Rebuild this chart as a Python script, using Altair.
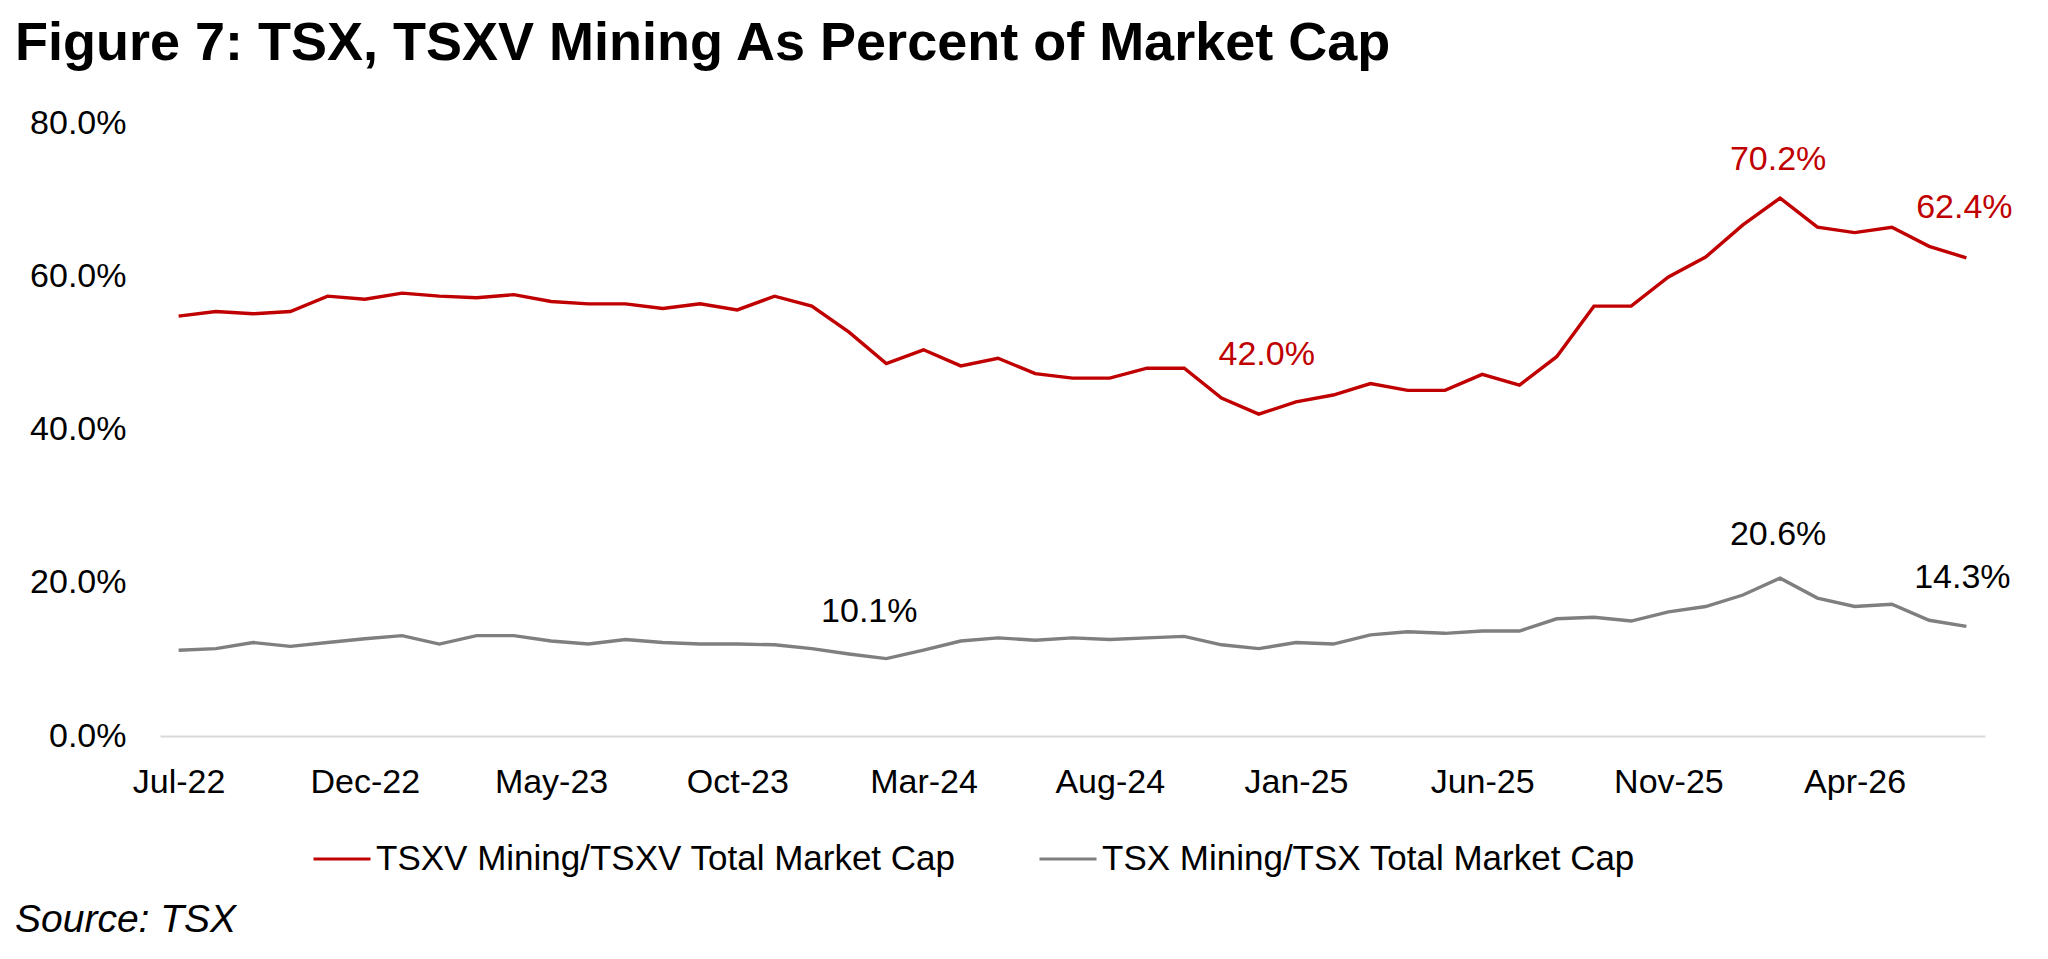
import altair as alt
import pandas as pd

months = [
    "Jul-22", "Aug-22", "Sep-22", "Oct-22", "Nov-22", "Dec-22",
    "Jan-23", "Feb-23", "Mar-23", "Apr-23", "May-23", "Jun-23",
    "Jul-23", "Aug-23", "Sep-23", "Oct-23", "Nov-23", "Dec-23",
    "Jan-24", "Feb-24", "Mar-24", "Apr-24", "May-24", "Jun-24",
    "Jul-24", "Aug-24", "Sep-24", "Oct-24", "Nov-24", "Dec-24",
    "Jan-25", "Feb-25", "Mar-25", "Apr-25", "May-25", "Jun-25",
    "Jul-25", "Aug-25", "Sep-25", "Oct-25", "Nov-25", "Dec-25",
    "Jan-26", "Feb-26", "Mar-26", "Apr-26", "May-26", "Jun-26", "Jul-26",
]

tsxv_share = [
    54.8, 55.4, 55.1, 55.4, 57.4, 57.0, 57.8, 57.4, 57.2, 57.6,
    56.7, 56.4, 56.4, 55.8, 56.4, 55.6, 57.4, 56.1, 52.7, 48.6,
    50.4, 48.3, 49.3, 47.3, 46.7, 46.7, 48.0, 48.0, 44.1, 42.0,
    43.6, 44.5, 46.0, 45.1, 45.1, 47.2, 45.8, 49.5, 56.1, 56.1,
    59.9, 62.5, 66.7, 70.2, 66.4, 65.7, 66.4, 63.9, 62.4,
]

tsx_share = [
    11.2, 11.4, 12.2, 11.7, 12.2, 12.7, 13.1, 12.0, 13.1, 13.1,
    12.4, 12.0, 12.6, 12.2, 12.0, 12.0, 11.9, 11.4, 10.7, 10.1,
    11.2, 12.4, 12.8, 12.5, 12.8, 12.6, 12.8, 13.0, 11.9, 11.4,
    12.2, 12.0, 13.2, 13.6, 13.4, 13.7, 13.7, 15.3, 15.5, 15.0,
    16.2, 16.9, 18.4, 20.6, 18.0, 16.9, 17.2, 15.1, 14.3,
]

series_names = ["TSXV Mining/TSXV Total Market Cap", "TSX Mining/TSX Total Market Cap"]
series_colors = ["#C00000", "#7F7F7F"]
tick_months = ["Jul-22", "Dec-22", "May-23", "Oct-23", "Mar-24",
               "Aug-24", "Jan-25", "Jun-25", "Nov-25", "Apr-26"]
y_ticks = [0, 20, 40, 60, 80]

# annotated points: (month, series index)
annotated = [("Dec-24", 0), ("Feb-26", 0), ("Jul-26", 0),
             ("Feb-24", 1), ("Feb-26", 1), ("Jul-26", 1)]
# label styling (offsets in px, text colour)
annot_style = [(8, -59, "#C00000"), (-2, -38, "#C00000"), (-2, -50, "#C00000"),
               (-17, -47, "#000000"), (-2, -43, "#000000"), (-4, -48, "#000000")]

rows = []
for i, m in enumerate(months):
    rows.append({"month": m, "series": series_names[0], "value": tsxv_share[i]})
    rows.append({"month": m, "series": series_names[1], "value": tsx_share[i]})
df = pd.DataFrame(rows)

FONT = "Liberation Sans"

x_enc = alt.X(
    "month:O", sort=months,
    scale=alt.Scale(type="point", padding=0.5),
    axis=alt.Axis(values=tick_months, labelAngle=0, labelFontSize=34, labelFont=FONT,
                  labelColor="#000000", ticks=False, tickSize=0, labelPadding=29,
                  domainColor="#D9D9D9", domainWidth=2, grid=False, title=None),
)
y_enc = alt.Y(
    "value:Q",
    scale=alt.Scale(domain=[0, 80], nice=False, zero=True),
    axis=alt.Axis(values=y_ticks, labelExpr="format(datum.value, '.1f') + '%'",
                  labelFontSize=34, labelFont=FONT, labelColor="#000000",
                  ticks=False, tickSize=0, domain=False, grid=False,
                  labelPadding=34, title=None),
)

lines = alt.Chart(df).mark_line(strokeWidth=3.4).encode(
    x=x_enc,
    y=y_enc,
    color=alt.Color(
        "series:N",
        scale=alt.Scale(domain=series_names, range=series_colors),
        legend=alt.Legend(orient="none", legendX=152, legendY=706, direction="horizontal",
                          title=None, symbolType="stroke", symbolSize=3249,
                          symbolStrokeWidth=3, labelFontSize=35, labelFont=FONT,
                          labelColor="#000000", labelOffset=4, columnPadding=77,
                          labelLimit=0),
    ),
)

layers = [lines]
for (m, si), (dx, dy, col) in zip(annotated, annot_style):
    layers.append(
        alt.Chart(df)
        .transform_filter((alt.datum.month == m) & (alt.datum.series == series_names[si]))
        .transform_calculate(label="format(datum.value, '.1f') + '%'")
        .mark_text(dx=dx, dy=dy, fontSize=34, font=FONT, color=col,
                   align="center", baseline="middle")
        .encode(x=alt.X("month:O", sort=months), y=alt.Y("value:Q"), text="label:N")
    )

source = alt.Chart(pd.DataFrame({"t": ["Source: TSX"]})).mark_text(
    align="left", baseline="middle", fontSize=39, font=FONT, fontStyle="italic",
    color="#000000",
).encode(x=alt.value(-145), y=alt.value(797), text="t:N")
layers.append(source)

chart = alt.layer(*layers).properties(
    width=1825,
    height=613,
    title=alt.TitleParams(
        "Figure 7: TSX, TSXV Mining As Percent of Market Cap",
        anchor="start", frame="group", dx=-145, dy=49, fontSize=54, font=FONT,
        fontWeight="bold", color="#000000", baseline="alphabetic", offset=41,
    ),
    autosize=alt.AutoSizeParams(type="none"),
    padding={"left": 152, "top": 115, "right": 50, "bottom": 205},
).configure(background="#FFFFFF").configure_view(strokeWidth=0, stroke="transparent")

chart.save("out.html", embed_options={"renderer": "svg", "actions": False})
